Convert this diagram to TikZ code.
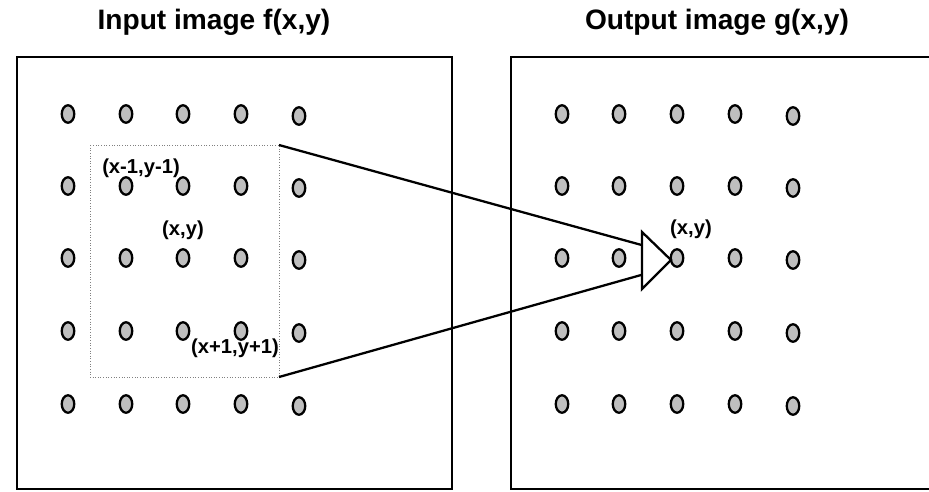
\documentclass[tikz,border=0pt]{standalone}
\usepackage{fontspec}
\setmainfont{Liberation Sans}
\usetikzlibrary{shapes.geometric, calc}

\tikzset{
  pixel/.style={ellipse, draw=black, line width=1.3pt, fill=gray!50, minimum width=0.25cm, minimum height=0.35cm, inner sep=0pt},
  frame/.style={draw=black, line width=1.6pt},
  window/.style={draw=gray, line width=0.5pt, densely dotted},
  title/.style={font=\fontsize{16}{19}\selectfont\bfseries},
  coordlabel/.style={font=\fontsize{11.5}{13}\selectfont\bfseries, inner sep=0pt},
  arrowline/.style={line width=1.3pt},
}

\begin{document}
\begin{tikzpicture}[x=0.02cm, y=-0.02cm]
    \useasboundingbox (0,0) rectangle (929,491);

    % Titles
    \node[title] (intitle) at (214,22) {Input image f(x,y)};
    \node[title] (outtitle) at (717,22) {Output image g(x,y)};

    % Image frames
    \draw[frame] (17,57) rectangle (452,489); % input image
    \draw[frame] (940,57) -- (511,57) -- (511,489) -- (940,489); % output image

    % Pixel grids
    \foreach \r/\y in {1/114, 2/186, 3/258, 4/331, 5/404} {
        \foreach \c/\xa/\xb/\dy in {1/68/562/0, 2/126/619/0, 3/183/677/0, 4/241/735/0, 5/299/793/2} {
            \node[pixel] (in-\r-\c) at (\xa,\y+\dy) {};
            \node[pixel] (out-\r-\c) at (\xb,\y+\dy) {};
        }
    }

    % 3x3 neighbourhood window
    \coordinate (winNW) at (90,145);
    \coordinate (winSE) at (279,377);
    \coordinate (winNE) at (winSE |- winNW);
    \draw[window] (winNW) rectangle (winSE);

    % Open arrow head onto the output pixel
    \coordinate (headTop) at (642,232);
    \coordinate (headBot) at (642,289);
    \coordinate (headTip) at (671,260);
    \draw[arrowline] (winNE) -- ($(headTop)!0.23!(headBot)$);
    \draw[arrowline] (winSE) -- ($(headTop)!0.75!(headBot)$);
    \draw[arrowline, fill=white] (headTop) -- (headTip) -- (headBot) -- cycle;

    % Pixel coordinates
    \node[coordlabel] (lblnw) at (141,168) {(x-1,y-1)};
    \node[coordlabel] (lblin) at (183,230) {(x,y)};
    \node[coordlabel] (lblse) at (235,348) {(x+1,y+1)};
    \node[coordlabel] (lblout) at (691,229) {(x,y)};
\end{tikzpicture}
\end{document}
